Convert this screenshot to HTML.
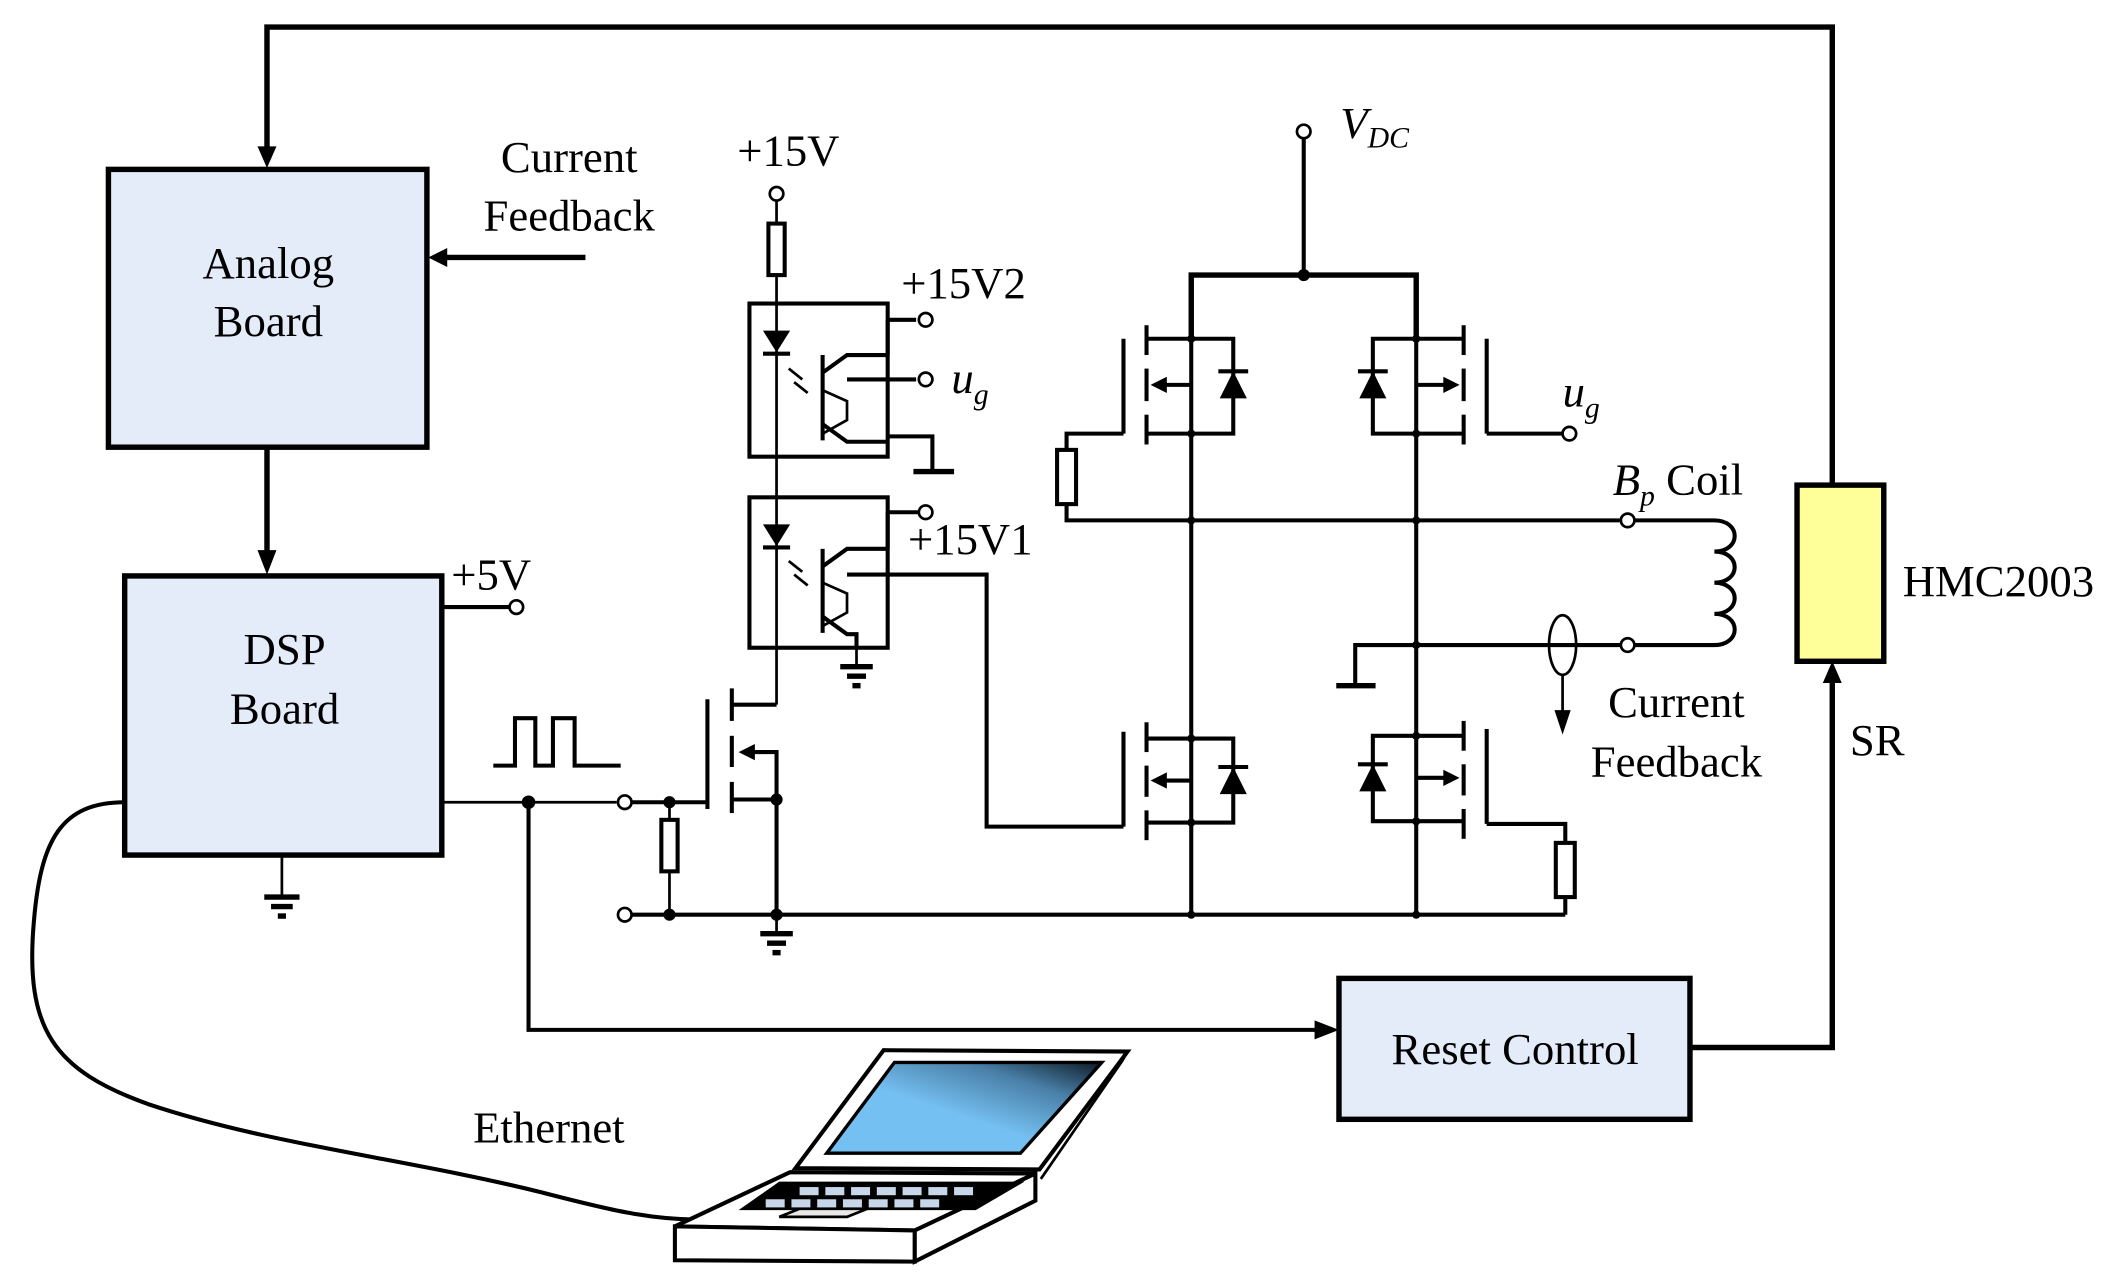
<!DOCTYPE html>
<html><head><meta charset="utf-8"><style>
html,body{margin:0;padding:0;background:#fff;}
svg{display:block;}
text{font-family:"Liberation Serif",serif;fill:#000;}
</style></head><body>
<svg width="2125" height="1286" viewBox="0 0 1568 949" preserveAspectRatio="none" xmlns="http://www.w3.org/2000/svg">
<defs>
<linearGradient id="scr" x1="0" y1="1" x2="1" y2="0"><stop offset="0.45" stop-color="#74c0f2"/><stop offset="0.75" stop-color="#4a80a8"/><stop offset="1" stop-color="#0d1a26"/></linearGradient>
</defs>
<g stroke="#000" fill="none" stroke-width="3">
<polyline points="1352,358 1352,20 197,20 197,114" stroke-width="4"/>
<path d="M190,108 L197,124 L204,108z" fill="#000" stroke="none"/>
<rect x="80" y="125" width="235" height="205" fill="#e3ecf8" stroke-width="4"/>
<line x1="432" y1="190" x2="326" y2="190" stroke-width="4"/>
<path d="M330,183 L316,190 L330,197z" fill="#000" stroke="none"/>
<line x1="197" y1="330" x2="197" y2="412" stroke-width="4"/>
<path d="M190,406 L197,424 L204,406z" fill="#000" stroke="none"/>
<rect x="92" y="425" width="234" height="206" fill="#e3ecf8" stroke-width="4"/>
<line x1="326" y1="448" x2="376" y2="448"/>
<circle cx="381" cy="448" r="5" fill="#fff" stroke-width="2"/>
<line x1="208" y1="631" x2="208" y2="661" stroke-width="2"/>
<g stroke-width="4"><line x1="195" y1="662" x2="221" y2="662"/><line x1="200" y1="669" x2="216" y2="669"/><line x1="205" y1="676" x2="211" y2="676"/></g>
<line x1="326" y1="592" x2="455" y2="592" stroke-width="2"/>
<circle cx="390" cy="592" r="3.5" fill="#000"/>
<circle cx="461" cy="592" r="5" fill="#fff" stroke-width="2"/>
<polyline points="390,592 390,760 976,760" stroke-width="3"/>
<path d="M970,753 L988,760 L970,767z" fill="#000" stroke="none"/>
<polyline points="364,565 380,565 380,530 395,530 395,565 408,565 408,530 424,530 424,565 458,565" stroke-width="3"/>
<rect x="988" y="722" width="259" height="104" fill="#e3ecf8" stroke-width="4"/>
<polyline points="1247,773 1352,773 1352,502" stroke-width="4"/>
<path d="M1345,504 L1352,488 L1359,504z" fill="#000" stroke="none"/>
<rect x="1326" y="358" width="64" height="130" fill="#ffff99" stroke-width="4"/>
<path d="M92,592 C45,592 30,620 25,680 C18,760 40,790 110,815 C200,845 300,855 400,880 C450,893 480,900 515,900" stroke-width="3"/>
<circle cx="573" cy="143" r="5" fill="#fff" stroke-width="2"/>
<line x1="573" y1="148" x2="573" y2="520" stroke-width="2"/>
<rect x="567" y="165" width="12" height="38" fill="#fff" stroke-width="3"/>
<rect x="553" y="224" width="102" height="113" stroke-width="3"/>
<path d="M563,244 L583,244 L573,260z" fill="#000" stroke="none"/><line x1="563" y1="261" x2="583" y2="261"/>
<line x1="607" y1="262" x2="607" y2="325" stroke-width="3"/>
<polyline points="607,275 625,262 655,262"/><polyline points="607,313 625,326 655,326"/>
<polyline points="607,288 625,296 625,310 607,320" stroke-width="2"/>
<line x1="625" y1="280" x2="676" y2="280"/>
<line x1="655" y1="236" x2="676" y2="236"/><line x1="655" y1="236" x2="655" y2="262"/>
<circle cx="683" cy="236" r="5" fill="#fff" stroke-width="2"/>
<circle cx="683" cy="280" r="5" fill="#fff" stroke-width="2"/>
<polyline points="655,322 688,322 688,348"/><line x1="674" y1="348" x2="704" y2="348" stroke-width="4"/>
<path d="M582,272 L592,280 M586,282 L596,290" stroke-width="2"/>
<rect x="553" y="367" width="102" height="111" stroke-width="3"/>
<path d="M563,387 L583,387 L573,403z" fill="#000" stroke="none"/><line x1="563" y1="404" x2="583" y2="404"/>
<line x1="607" y1="405" x2="607" y2="467" stroke-width="3"/>
<polyline points="607,418 625,405 655,405"/><polyline points="607,455 625,468 632,468 632,478"/>
<polyline points="607,430 625,438 625,452 607,462" stroke-width="2"/>
<line x1="655" y1="378" x2="678" y2="378"/><line x1="655" y1="378" x2="655" y2="405"/>
<circle cx="683" cy="378" r="5" fill="#fff" stroke-width="2"/>
<polyline points="625,424 728,424 728,610 829,610"/>
<line x1="632" y1="478" x2="632" y2="492" stroke-width="2"/>
<g stroke-width="4"><line x1="620" y1="492" x2="644" y2="492"/><line x1="625" y1="499" x2="639" y2="499"/><line x1="629" y1="506" x2="635" y2="506"/></g>
<path d="M582,414 L592,422 M586,424 L596,432" stroke-width="2"/>
<line x1="466" y1="592" x2="522" y2="592" stroke-width="3"/>
<line x1="522" y1="516" x2="522" y2="597" stroke-width="3"/>
<line x1="540" y1="508" x2="540" y2="532" stroke-width="3"/><line x1="540" y1="543" x2="540" y2="566" stroke-width="3"/><line x1="540" y1="577" x2="540" y2="600" stroke-width="3"/>
<polyline points="540,520 573,520"/><polyline points="556,555 573,555 573,675"/><polyline points="540,590 573,590"/>
<path d="M545,555 L557,549 L557,561z" fill="#000" stroke="none"/>
<circle cx="573" cy="590" r="3" fill="#000"/>
<circle cx="494" cy="592" r="3" fill="#000"/>
<line x1="494" y1="592" x2="494" y2="675" stroke-width="2"/>
<rect x="488" y="605" width="12" height="38" fill="#fff" stroke-width="3"/>
<circle cx="461" cy="675" r="5" fill="#fff" stroke-width="2"/>
<line x1="466" y1="675" x2="1155" y2="675" stroke-width="3"/>
<circle cx="494" cy="675" r="3" fill="#000"/><circle cx="573" cy="675" r="3" fill="#000"/>
<line x1="573" y1="675" x2="573" y2="688" stroke-width="2"/>
<g stroke-width="4"><line x1="561" y1="689" x2="585" y2="689"/><line x1="566" y1="696" x2="580" y2="696"/><line x1="570" y1="703" x2="576" y2="703"/></g>
<circle cx="962" cy="97" r="5" fill="#fff" stroke-width="2"/>
<line x1="962" y1="102" x2="962" y2="203"/>
<polyline points="879,250 879,203 1045,203 1045,250" stroke-width="4"/>
<line x1="879" y1="203" x2="879" y2="675"/><line x1="1045" y1="203" x2="1045" y2="675"/>
<circle cx="962" cy="203" r="3" fill="#000"/>
<line x1="829" y1="250" x2="829" y2="320" stroke-width="3"/>
<line x1="846" y1="240" x2="846" y2="262" stroke-width="3"/><line x1="846" y1="272" x2="846" y2="296" stroke-width="3"/><line x1="846" y1="306" x2="846" y2="328" stroke-width="3"/>
<polyline points="846,250 910,250 910,320 846,320" stroke-width="3"/>
<line x1="855" y1="284" x2="879" y2="284"/><path d="M849,284 L861,278 L861,290z" fill="#000" stroke="none"/>
<path d="M900,294 L920,294 L910,274z" fill="#000" stroke="none"/><line x1="899" y1="274" x2="921" y2="274"/>
<polyline points="829,320 787,320 787,384 1195,384" stroke-width="3"/>
<rect x="780" y="332" width="14" height="40" fill="#fff" stroke-width="3"/>
<line x1="1097" y1="250" x2="1097" y2="320" stroke-width="3"/>
<line x1="1080" y1="240" x2="1080" y2="262" stroke-width="3"/><line x1="1080" y1="272" x2="1080" y2="296" stroke-width="3"/><line x1="1080" y1="306" x2="1080" y2="328" stroke-width="3"/>
<polyline points="1080,250 1013,250 1013,320 1080,320" stroke-width="3"/>
<line x1="1045" y1="284" x2="1070" y2="284"/><path d="M1077,284 L1065,278 L1065,290z" fill="#000" stroke="none"/>
<path d="M1003,294 L1023,294 L1013,274z" fill="#000" stroke="none"/><line x1="1002" y1="274" x2="1024" y2="274"/>
<polyline points="1097,320 1153,320" stroke-width="3"/>
<circle cx="1158" cy="320" r="5" fill="#fff" stroke-width="2"/>
<line x1="829" y1="540" x2="829" y2="610" stroke-width="3"/>
<line x1="846" y1="533" x2="846" y2="555" stroke-width="3"/><line x1="846" y1="565" x2="846" y2="588" stroke-width="3"/><line x1="846" y1="598" x2="846" y2="620" stroke-width="3"/>
<polyline points="846,545 910,545 910,607 846,607" stroke-width="3"/>
<line x1="855" y1="576" x2="879" y2="576"/><path d="M849,576 L861,570 L861,582z" fill="#000" stroke="none"/>
<path d="M900,586 L920,586 L910,566z" fill="#000" stroke="none"/><line x1="899" y1="566" x2="921" y2="566"/>
<line x1="1097" y1="538" x2="1097" y2="608" stroke-width="3"/>
<line x1="1080" y1="532" x2="1080" y2="554" stroke-width="3"/><line x1="1080" y1="564" x2="1080" y2="587" stroke-width="3"/><line x1="1080" y1="597" x2="1080" y2="619" stroke-width="3"/>
<polyline points="1080,543 1013,543 1013,606 1080,606" stroke-width="3"/>
<line x1="1045" y1="574" x2="1070" y2="574"/><path d="M1077,574 L1065,568 L1065,580z" fill="#000" stroke="none"/>
<path d="M1003,584 L1023,584 L1013,564z" fill="#000" stroke="none"/><line x1="1002" y1="564" x2="1024" y2="564"/>
<polyline points="1097,608 1155,608 1155,675" stroke-width="3"/>
<rect x="1148" y="622" width="14" height="40" fill="#fff" stroke-width="3"/>
<g fill="#000" stroke="none">
<circle cx="879" cy="250" r="3"/><circle cx="879" cy="320" r="3"/><circle cx="1045" cy="250" r="3"/><circle cx="1045" cy="320" r="3"/>
<circle cx="879" cy="384" r="3"/><circle cx="1045" cy="384" r="3"/><circle cx="1045" cy="476" r="3"/>
<circle cx="879" cy="545" r="3"/><circle cx="879" cy="607" r="3"/><circle cx="1045" cy="543" r="3"/><circle cx="1045" cy="606" r="3"/>
<circle cx="879" cy="675" r="3"/><circle cx="1045" cy="675" r="3"/></g>
<circle cx="1201" cy="384" r="5" fill="#fff" stroke-width="2"/>
<circle cx="1201" cy="476" r="5" fill="#fff" stroke-width="2"/>
<polyline points="1000,505 1000,476 1196,476" stroke-width="3"/>
<line x1="986" y1="506" x2="1015" y2="506" stroke-width="4"/>
<path d="M1206,384 L1265,384 C1285,384 1285,407 1265,407 C1285,407 1285,430 1265,430 C1285,430 1285,453 1265,453 C1285,453 1285,476 1265,476 L1206,476" stroke-width="3"/>
<ellipse cx="1153" cy="476" rx="10" ry="22" fill="none" stroke-width="2"/>
<line x1="1153" y1="498" x2="1153" y2="530" stroke-width="2"/>
<path d="M1147,524 L1153,542 L1159,524z" fill="#000" stroke="none"/>
<polygon points="652,775 832,776 767,863 587,862" fill="#fff" stroke-width="3"/>
<polygon points="660,784 813,784 753,851 610,851" fill="url(#scr)" stroke-width="2.5"/>
<polyline points="832,776 828,783 768,870" stroke-width="2"/>
<polygon points="498,905 583,865 764,866 675,908" fill="#fff" stroke-width="3"/>
<polygon points="498,905 675,908 675,931 498,930" fill="#fff" stroke-width="3"/>
<polygon points="675,908 764,866 764,886 675,931" fill="#fff" stroke-width="3"/>
<polygon points="545,893 575,872 756,872 720,893" fill="#000" stroke="none"/>
<polygon points="575,898 590,892 640,892 625,898" fill="#e8e8e8" stroke-width="2"/>
</g>
<g fill="#c8d6ea">
<rect x="590" y="876" width="14" height="6"/><rect x="609" y="876" width="14" height="6"/><rect x="628" y="876" width="14" height="6"/><rect x="647" y="876" width="14" height="6"/><rect x="666" y="876" width="14" height="6"/><rect x="685" y="876" width="14" height="6"/><rect x="704" y="876" width="14" height="6"/>
<rect x="565" y="885" width="14" height="6"/><rect x="584" y="885" width="14" height="6"/><rect x="603" y="885" width="14" height="6"/><rect x="622" y="885" width="14" height="6"/><rect x="641" y="885" width="14" height="6"/><rect x="660" y="885" width="14" height="6"/><rect x="679" y="885" width="14" height="6"/>
</g>
<g font-size="33">
<text x="420" y="127" text-anchor="middle">Current</text>
<text x="420" y="170" text-anchor="middle">Feedback</text>
<text x="198" y="205" text-anchor="middle">Analog</text>
<text x="198" y="248" text-anchor="middle">Board</text>
<text x="210" y="490" text-anchor="middle">DSP</text>
<text x="210" y="534" text-anchor="middle">Board</text>
<text x="333" y="435">+5V</text>
<text x="544" y="122">+15V</text>
<text x="665" y="220">+15V2</text>
<text x="670" y="409">+15V1</text>
<text x="702" y="290" font-style="italic">u<tspan font-size="22" dy="8">g</tspan></text>
<text x="1153" y="300" font-style="italic">u<tspan font-size="22" dy="8">g</tspan></text>
<text x="989" y="102" font-style="italic">V<tspan font-size="22" dy="7">DC</tspan></text>
<text x="1190" y="365"><tspan font-style="italic">B</tspan><tspan font-style="italic" font-size="22" dy="8">p</tspan><tspan dy="-8"> Coil</tspan></text>
<text x="1237" y="529" text-anchor="middle">Current</text>
<text x="1237" y="573" text-anchor="middle">Feedback</text>
<text x="1365" y="557">SR</text>
<text x="1404" y="440">HMC2003</text>
<text x="1118" y="785" text-anchor="middle">Reset Control</text>
<text x="405" y="843" text-anchor="middle">Ethernet</text>
</g>
</svg>
</body></html>
